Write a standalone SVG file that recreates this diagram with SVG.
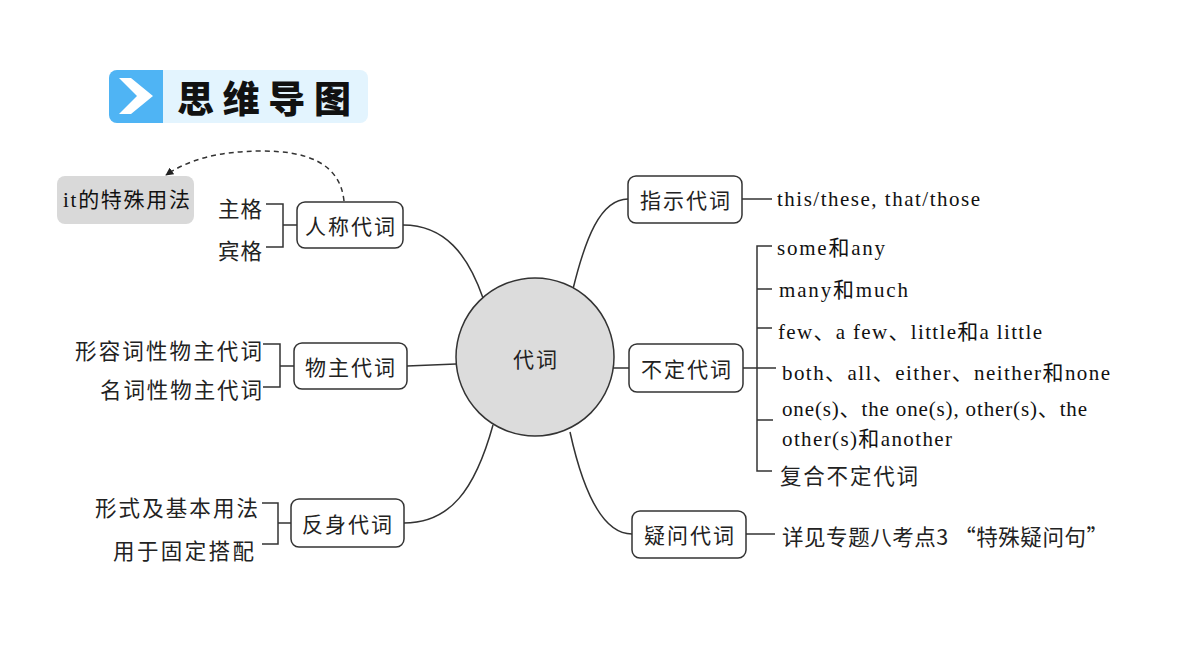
<svg xmlns="http://www.w3.org/2000/svg" width="1200" height="670" viewBox="0 0 1200 670">
<defs>
<style>
.node{fill:#fff;stroke:#333;stroke-width:1.5}
.ln{fill:none;stroke:#333;stroke-width:1.5}
.nt{font-family:"Noto Sans CJK SC","Noto Sans",sans-serif;font-size:21px;fill:#222;letter-spacing:2px;text-anchor:middle;dominant-baseline:central}
.lt{font-family:"Noto Sans CJK SC","Noto Sans",sans-serif;font-size:21.5px;fill:#222;dominant-baseline:central}
.et{font-family:"Liberation Serif","Noto Sans CJK SC",serif;font-size:21px;fill:#111;dominant-baseline:central}
</style>
<marker id="ah" viewBox="0 0 10 10" refX="9" refY="5" markerWidth="8" markerHeight="8" orient="auto-start-reverse" markerUnits="userSpaceOnUse">
<path d="M0,0 L10,5 L0,10 z" fill="#222"/>
</marker>
</defs>
<rect width="1200" height="670" fill="#fff"/>

<g id="header">
<rect x="109" y="70" width="259" height="53" rx="8" fill="#e3f4fe"/>
<path d="M117,70 H163 V123 H117 A8,8 0 0 1 109,115 V78 A8,8 0 0 1 117,70 z" fill="#4fb4f4"/>
<polygon points="119,78 131,78 153,96 131,114 119,114 137,96" fill="#fff"/>
<text x="177" y="97" font-family="'Noto Sans CJK SC',sans-serif" font-size="37" font-weight="900" textLength="174" lengthAdjust="spacing" fill="#111" dominant-baseline="central">思维导图</text>
</g>

<g id="connectors">
<path class="ln" d="M483,298 C468,255 445,225 403,225"/>
<path class="ln" d="M456,364 L407,366"/>
<path class="ln" d="M493,425 C475,490 450,523 404,523"/>
<path class="ln" d="M573,289 C585,240 600,199 628,199"/>
<path class="ln" d="M613,368 L629,368"/>
<path class="ln" d="M570,432 C585,500 605,534 632,534"/>
<path class="ln" d="M344,201 C340,162 305,151 262,151 C218,151 188,160 166,175" stroke-dasharray="5,4" marker-end="url(#ah)"/>
<path class="ln" d="M266,204 H283 V247 H266 M283,225 H297"/>
<path class="ln" d="M263,344 H280 V387 H263 M280,366 H294"/>
<path class="ln" d="M262,503 H278 V544 H262 M278,523 H291"/>
<path class="ln" d="M742,199 H772"/>
<path class="ln" d="M772,246 H757 V471 H772 M757,289 H772 M757,328 H772 M743,368 H776 M757,420 H773"/>
<path class="ln" d="M746,534 H775"/>
</g>

<g id="center">
<circle cx="535" cy="357" r="79" fill="#dcdcdc" stroke="#333" stroke-width="1.5"/>
<text class="nt" x="536" y="358">代词</text>
</g>

<g id="n-it">
<rect x="57" y="176" width="137" height="48" rx="8" fill="#d9d9d9"/>
<text class="et" x="63" y="200" font-size="22" textLength="127" lengthAdjust="spacing">it的特殊用法</text>
</g>

<g id="n-renchen">
<rect class="node" x="297" y="202" width="106" height="46" rx="8"/>
<text class="nt" x="351" y="225">人称代词</text>
</g>
<g id="l-renchen">
<text class="lt" x="218" y="207" textLength="44" lengthAdjust="spacing">主格</text>
<text class="lt" x="218" y="249" textLength="44" lengthAdjust="spacing">宾格</text>
</g>

<g id="n-wuzhu">
<rect class="node" x="294" y="343" width="113" height="46" rx="8"/>
<text class="nt" x="351" y="366">物主代词</text>
</g>
<g id="l-wuzhu">
<text class="lt" x="75" y="349" textLength="187" lengthAdjust="spacing">形容词性物主代词</text>
<text class="lt" x="100" y="388" textLength="162" lengthAdjust="spacing">名词性物主代词</text>
</g>

<g id="n-fanshen">
<rect class="node" x="291" y="499" width="113" height="48" rx="8"/>
<text class="nt" x="348" y="523">反身代词</text>
</g>
<g id="l-fanshen">
<text class="lt" x="95" y="506" textLength="163" lengthAdjust="spacing">形式及基本用法</text>
<text class="lt" x="113" y="549" textLength="141" lengthAdjust="spacing">用于固定搭配</text>
</g>

<g id="n-zhishi">
<rect class="node" x="628" y="176" width="114" height="47" rx="8"/>
<text class="nt" x="686" y="199">指示代词</text>
</g>
<g id="l-zhishi">
<text class="et" x="777" y="199" textLength="203" lengthAdjust="spacing">this/these, that/those</text>
</g>

<g id="n-buding">
<rect class="node" x="629" y="344" width="114" height="48" rx="8"/>
<text class="nt" x="687" y="368">不定代词</text>
</g>
<g id="l-buding">
<text class="et" x="777" y="248" textLength="108" lengthAdjust="spacing">some和any</text>
<text class="et" x="779" y="290" textLength="129" lengthAdjust="spacing">many和much</text>
<text class="et" x="778" y="332" textLength="264" lengthAdjust="spacing">few、a few、little和a little</text>
<text class="et" x="782" y="373" textLength="328" lengthAdjust="spacing">both、all、either、neither和none</text>
<text class="et" x="782" y="409" textLength="305" lengthAdjust="spacing">one(s)、the one(s), other(s)、the</text>
<text class="et" x="782" y="439" textLength="170" lengthAdjust="spacing">other(s)和another</text>
<text class="lt" x="780" y="474" textLength="138" lengthAdjust="spacing">复合不定代词</text>
</g>

<g id="n-yiwen">
<rect class="node" x="632" y="511" width="114" height="47" rx="8"/>
<text class="nt" x="690" y="534">疑问代词</text>
</g>
<g id="l-yiwen">
<text class="lt" x="782" y="535" textLength="326" lengthAdjust="spacing">详见专题八考点3 “特殊疑问句”</text>
</g>
</svg>
